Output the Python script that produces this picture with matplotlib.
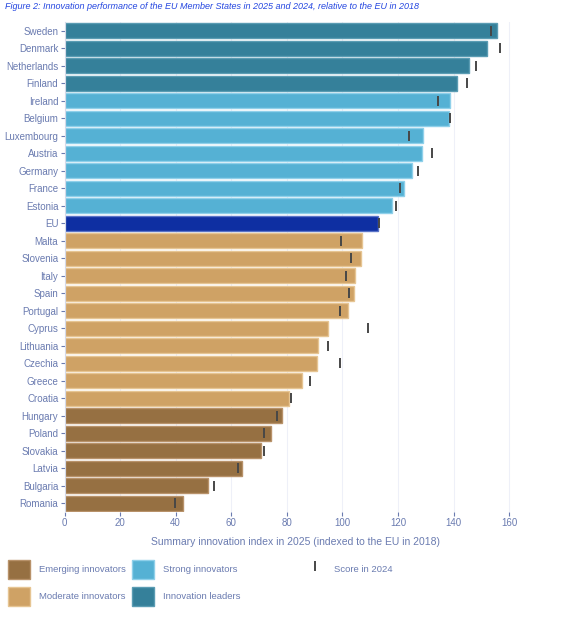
import numpy as np
import matplotlib
matplotlib.use('Agg')
import matplotlib.pyplot as plt
from matplotlib.patches import Patch
from matplotlib.lines import Line2D

plt.rcParams['font.family'] = ['Liberation Sans', 'DejaVu Sans']

# country order top to bottom
countries = ['Sweden', 'Denmark', 'Netherlands', 'Finland', 'Ireland', 'Belgium',
             'Luxembourg', 'Austria', 'Germany', 'France', 'Estonia', 'EU',
             'Malta', 'Slovenia', 'Italy', 'Spain', 'Portugal', 'Cyprus',
             'Lithuania', 'Czechia', 'Greece', 'Croatia', 'Hungary', 'Poland',
             'Slovakia', 'Latvia', 'Bulgaria', 'Romania']
score_2025 = [155.5, 151.9, 145.4, 141.3, 138.6, 138.2,
              129.0, 128.5, 125.2, 122.3, 118.0, 112.7,
              106.9, 106.7, 104.7, 104.3, 102.1, 94.7,
              91.2, 90.8, 85.4, 80.7, 78.3, 74.2,
              70.7, 63.9, 51.7, 42.5]
score_2024 = [153.5, 156.9, 148.1, 144.9, 134.5, 138.9,
              124.0, 132.3, 127.3, 120.8, 119.2, 113.1,
              99.5, 103.1, 101.3, 102.4, 99.1, 109.4,
              94.8, 99.1, 88.3, 81.6, 76.6, 71.7,
              71.7, 62.3, 53.9, 39.6]
group = ['leader'] * 4 + ['strong'] * 7 + ['eu'] + ['moderate'] * 10 + ['emerging'] * 6

fills = {'leader': '#35809a', 'strong': '#55b1d4', 'eu': '#0e2fa2',
         'moderate': '#cfa265', 'emerging': '#967042'}
edges = {'leader': '#5a9cb3', 'strong': '#8fd0ea', 'eu': '#5a74c8',
         'moderate': '#e6c593', 'emerging': '#b8926a'}
txt = '#6a7bb0'

fig = plt.figure(figsize=(5.68, 6.29), dpi=100)
ax = fig.add_axes([0.1136, 0.186, 0.812, 0.779])

y = np.arange(len(countries))
for i in range(len(countries)):
    g = group[i]
    ax.barh(y[i], score_2025[i], height=0.86, color=fills[g], edgecolor=edges[g],
            linewidth=1.0, zorder=2)
ax.plot(score_2024, y, linestyle='none', marker='|', markersize=6.5,
        markeredgewidth=1.4, color='#474747', zorder=3)

ax.set_ylim(len(countries) - 0.5, -0.5)
ax.set_xlim(0, 166)
ax.set_yticks(y)
ax.set_yticklabels(countries)
ax.set_xticks(np.arange(0, 161, 20))
ax.grid(axis='x', color='#eef0f8', linewidth=0.8, zorder=0)
ax.set_axisbelow(True)
for s in ['top', 'right', 'bottom']:
    ax.spines[s].set_visible(False)
ax.spines['left'].set_color('#d5dae8')
ax.spines['left'].set_linewidth(0.8)
ax.tick_params(axis='y', colors=txt, labelsize=7, length=3, width=0.8, pad=1.5)
ax.tick_params(axis='x', colors=txt, labelsize=7, length=3, width=0.8, pad=1)
ax.set_xlabel('Summary innovation index in 2025 (indexed to the EU in 2018)',
              color=txt, fontsize=7.5, labelpad=7)

fig.text(0.009, 0.997, 'Figure 2: Innovation performance of the EU Member States in 2025 and 2024, relative to the EU in 2018',
         fontsize=6.5, style='italic', color='#2446e0', va='top', ha='left')

patches = [Patch(facecolor=fills['emerging'], edgecolor=edges['emerging'], label='Emerging innovators'),
           Patch(facecolor=fills['moderate'], edgecolor=edges['moderate'], label='Moderate innovators'),
           Patch(facecolor=fills['strong'], edgecolor=edges['strong'], label='Strong innovators'),
           Patch(facecolor=fills['leader'], edgecolor=edges['leader'], label='Innovation leaders')]
fig.legend(handles=patches, ncol=2, loc='upper left', bbox_to_anchor=(0.014, 0.11),
           frameon=False, fontsize=6.8, handlelength=2.35, handleheight=2.7,
           handletextpad=0.95, columnspacing=0.6, labelspacing=0.85,
           labelcolor=txt, borderaxespad=0, borderpad=0)
mark = [Line2D([], [], linestyle='none', marker='|', markersize=7, markeredgewidth=1.4,
               color='#474747', label='Score in 2024')]
fig.legend(handles=mark, loc='upper left', bbox_to_anchor=(0.542, 0.11),
           frameon=False, fontsize=6.8, handlelength=1.5, handleheight=2.7,
           handletextpad=1.3, labelcolor=txt, borderaxespad=0, borderpad=0)

fig.savefig('out.png', dpi=100)
